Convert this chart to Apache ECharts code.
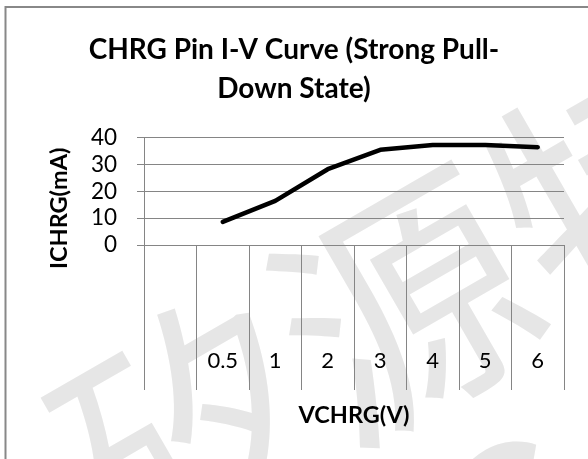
<!DOCTYPE html>
<html>
<head>
<meta charset="utf-8">
<script src="https://cdn.jsdelivr.net/npm/echarts@6/dist/echarts.min.js"></script>
<style>
html,body{margin:0;padding:0;background:#fff;}
#chart{width:588px;height:459px;}
</style>
</head>
<body>
<div id="chart"></div>
<script>
// ---- data ----
const categories = ['', '0.5', '1', '2', '3', '4', '5', '6'];
const currentMA = [null, 8.6, 16.4, 28.2, 35.4, 37.2, 37.2, 36.4];
const yMin = 0, yMax = 40, yStep = 10;
const titleText = 'CHRG Pin I-V Curve (Strong Pull-\nDown State)';
const xName = 'VCHRG(V)';
const yName = 'ICHRG(mA)';
const watermark = '矽源特';
const watermark2 = 'C';

const gray = '#858585';
const chart = echarts.init(document.getElementById('chart'), null, {renderer: 'canvas'});
chart.setOption({
  backgroundColor: '#fff',
  animation: false,
  title: {
    text: titleText,
    left: 'center',
    top: 25,
    textStyle: {fontFamily: 'Lato', fontWeight: 'bold', fontSize: 28, lineHeight: 39, color: '#000'}
  },
  graphic: [
    {type: 'rect', z: -5, silent: true,
     shape: {x: 5.5, y: 7, width: 620, height: 480},
     style: {fill: 'none', stroke: '#888', lineWidth: 2}},
    {type: 'text', z: -10, silent: true, x: 405, y: 305, rotation: Math.PI / 6,
     style: {text: watermark, fontFamily: 'Noto Sans CJK SC', fontSize: 250, fill: '#e6e6e6',
             align: 'center', verticalAlign: 'middle'}},
    {type: 'text', z: -10, silent: true, x: 515, y: 530, rotation: Math.PI / 6,
     style: {text: watermark2, fontFamily: 'Noto Sans CJK SC', fontSize: 230, fill: '#e6e6e6',
             align: 'center', verticalAlign: 'middle'}}
  ],
  grid: [
    {left: 144, right: 24, top: 137.5, height: 107.5},
    {left: 144, right: 24, top: 245, height: 145}
  ],
  xAxis: [
    {type: 'category', gridIndex: 0, data: categories, boundaryGap: true,
     axisLine: {show: true, lineStyle: {color: gray, width: 1}},
     axisTick: {show: false}, axisLabel: {show: false}, splitLine: {show: false}},
    {type: 'category', gridIndex: 1, data: categories, boundaryGap: true, position: 'bottom',
     axisLine: {show: false}, axisTick: {show: false},
     axisLabel: {show: true, inside: true, margin: 18, interval: 0,
                 fontFamily: 'Lato', fontSize: 22, color: '#000'},
     splitLine: {show: true, interval: 0, showMinLine: true, showMaxLine: true,
                 lineStyle: {color: gray, width: 1}},
     name: xName, nameLocation: 'middle', nameGap: 13,
     nameTextStyle: {fontFamily: 'Lato', fontWeight: 'bold', fontSize: 23.5, color: '#000', verticalAlign: 'top'}}
  ],
  yAxis: [
    {type: 'value', gridIndex: 0, min: yMin, max: yMax, interval: yStep,
     axisLine: {show: true, lineStyle: {color: gray, width: 1}},
     axisTick: {show: true, length: 7, lineStyle: {color: gray, width: 1}},
     axisLabel: {margin: 27, fontFamily: 'Lato', fontSize: 22.5, color: '#000'},
     splitLine: {show: true, lineStyle: {color: gray, width: 1}},
     name: yName, nameLocation: 'middle', nameRotate: 90, nameGap: 85,
     nameTextStyle: {fontFamily: 'Lato', fontWeight: 'bold', fontSize: 23.5, color: '#000',
                     padding: [0, 34, 0, 0], verticalAlign: 'middle'}},
    {type: 'value', gridIndex: 1, show: false, min: 0, max: 1}
  ],
  series: [
    {type: 'line', xAxisIndex: 0, yAxisIndex: 0, data: currentMA, symbol: 'none',
     lineStyle: {color: '#000', width: 4.5, cap: 'round', join: 'round'}}
  ]
});
</script>
</body>
</html>
